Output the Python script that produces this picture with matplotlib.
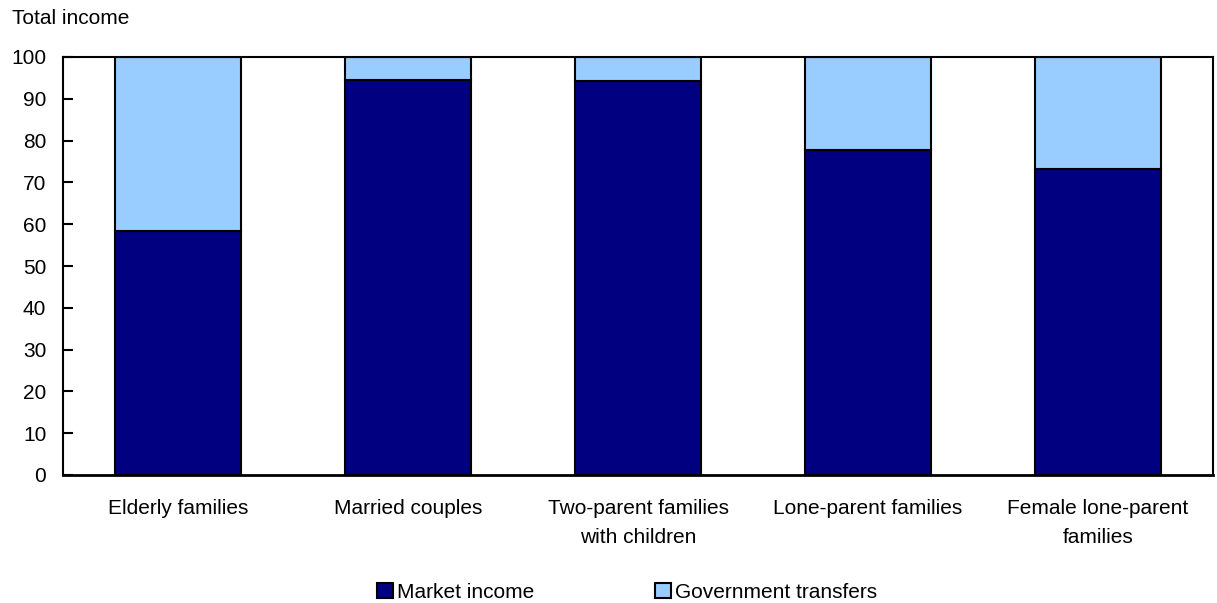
import matplotlib
matplotlib.use("Agg")
import matplotlib.pyplot as plt
import numpy as np

plt.rcParams["font.family"] = ["Liberation Sans", "DejaVu Sans"]

categories = ["Elderly families", "Married couples", "Two-parent families\nwith children",
              "Lone-parent families", "Female lone-parent\nfamilies"]
market_income = [58.4, 94.5, 94.2, 77.7, 73.3]
government_transfers = [41.6, 5.5, 5.8, 22.3, 26.7]

dark_blue = "#000080"
light_blue = "#99ccff"
fs = 15

fig = plt.figure(figsize=(12.17, 6.03), dpi=100)
ax = fig.add_axes([63 / 1217, 1 - 475 / 603, 1150 / 1217, 418 / 603])

x = np.arange(len(categories))
ax.bar(x, market_income, width=0.552, color=dark_blue, edgecolor="black",
       linewidth=1.5, label="Market income", zorder=2)
ax.bar(x, government_transfers, width=0.552, bottom=market_income, color=light_blue,
       edgecolor="black", linewidth=1.5, label="Government transfers", zorder=2)

ax.set_xlim(-0.5, len(categories) - 0.5)
ax.set_ylim(0, 100)
ax.set_yticks(np.arange(0, 101, 10))
ax.set_xticks(x)
ax.set_xticklabels(categories, fontsize=fs, linespacing=1.7)
ax.tick_params(axis="x", length=0, pad=17)
ax.tick_params(axis="y", direction="in", length=7, width=1.5, labelsize=fs, pad=12)

for side in ["top", "right", "left"]:
    ax.spines[side].set_linewidth(1.5)
ax.spines["bottom"].set_linewidth(2)

fig.text(12 / 1217, 1 - 18 / 603, "Total income", fontsize=fs, va="center", ha="left")

leg = fig.legend(loc="center", bbox_to_anchor=(627 / 1217, 1 - 592 / 603), ncol=2,
                 frameon=False, fontsize=fs, handlelength=0.75, handleheight=0.75,
                 handletextpad=0.2, columnspacing=5.8)

fig.savefig("out.png", dpi=100)
